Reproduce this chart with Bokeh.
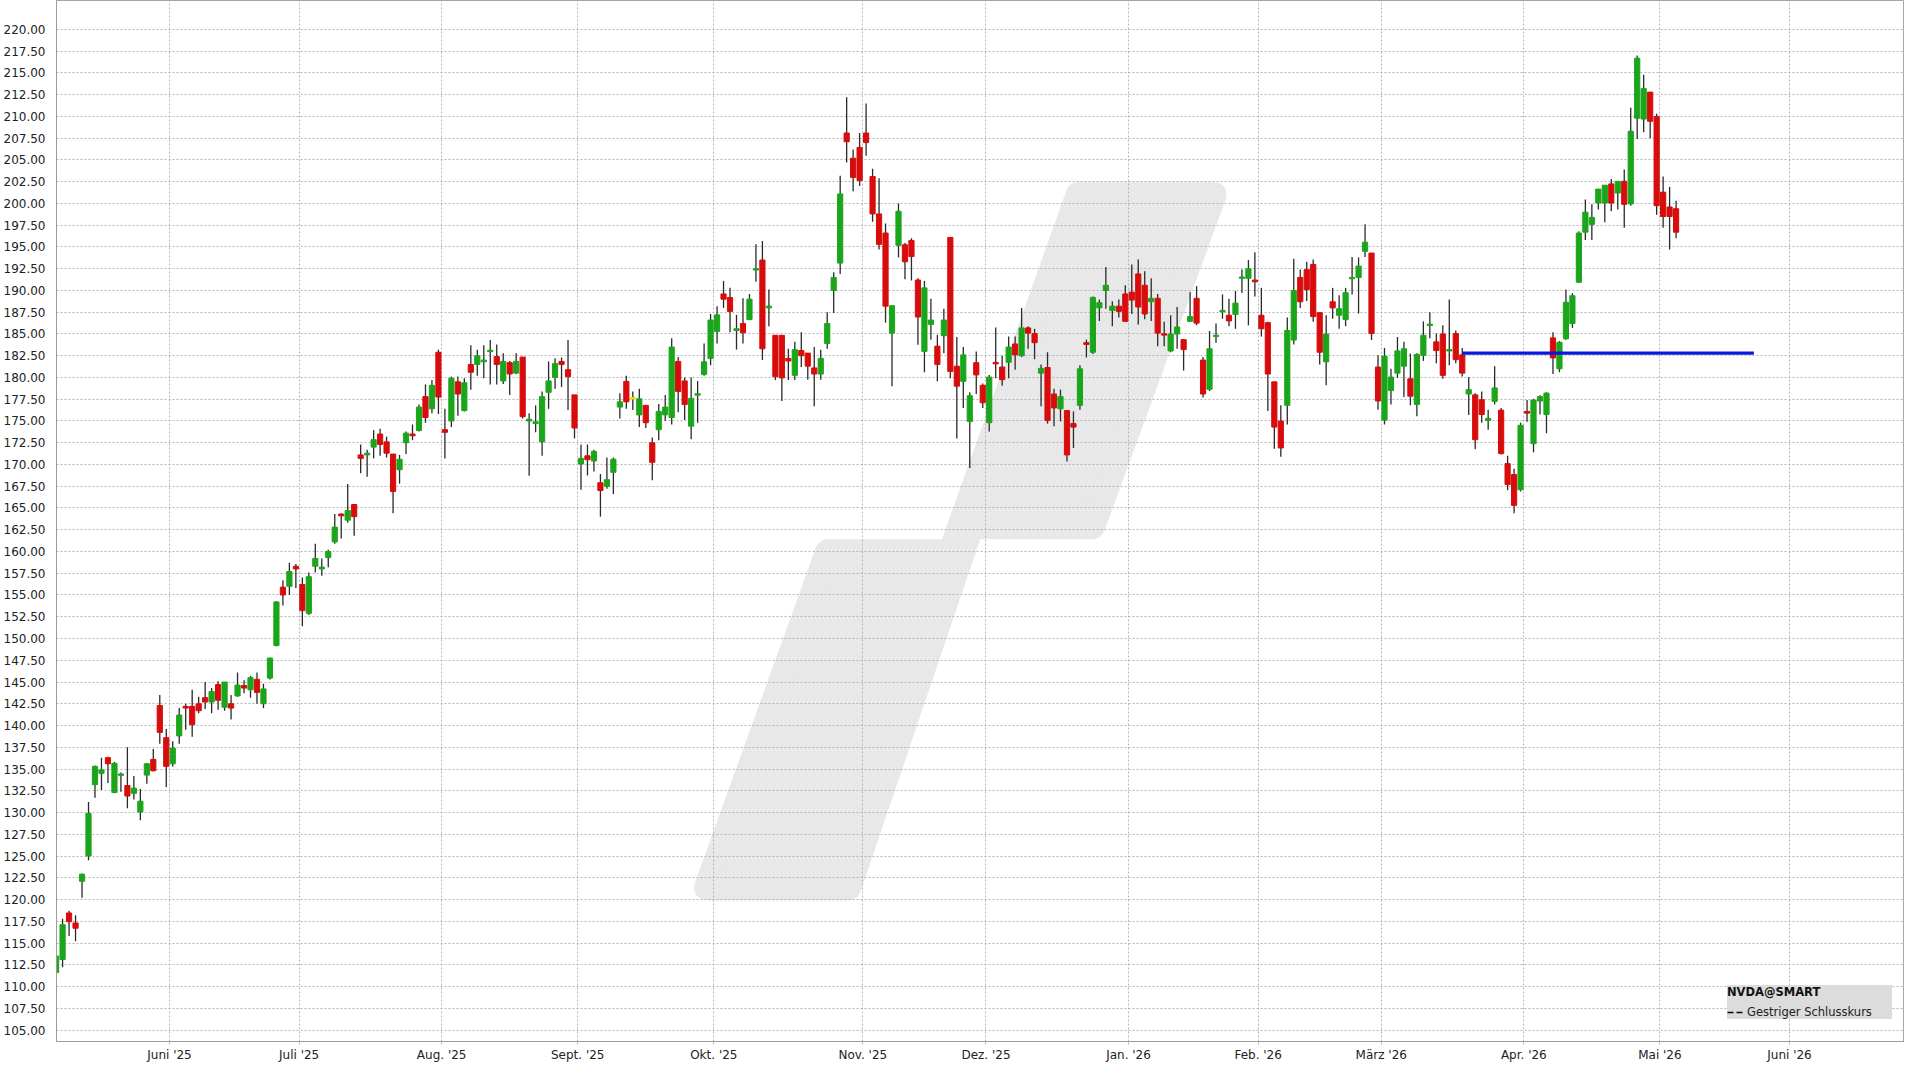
import numpy as np
import pandas as pd
from bokeh.plotting import figure
from bokeh.models import (ColumnDataSource, Range1d, FixedTicker, NumeralTickFormatter,
                          Legend, LegendItem)
from bokeh.embed import file_html
from bokeh.resources import INLINE

# ---------------- data ----------------
first_day = "2025-05-06"
axis_last_day = "2026-06-30"
market_holidays = ["2025-05-26", "2025-06-19", "2025-07-04", "2025-09-01", "2025-11-27",
                   "2025-12-25", "2026-01-01", "2026-01-19", "2026-02-16", "2026-04-03",
                   "2026-05-25"]

opens = [111.6, 113.1, 118.45, 117.3, 122.1, 125.0, 133.2, 134.5, 136.3, 132.3,
         134.3, 133.1, 132.2, 130.05, 134.3, 136.1, 142.3, 138.6, 135.6, 138.8,
         142.2, 142.2, 142.5, 143.2, 142.7, 144.7, 142.1, 142.5, 143.4, 144.6,
         144.1, 145.3, 142.5, 145.45, 149.2, 155.9, 156.0, 158.3, 156.2, 152.9,
         158.3, 158.0, 159.3, 161.1, 164.3, 163.6, 165.4, 171.1, 171.1, 172.0,
         173.5, 172.6, 171.2, 169.4, 172.5, 173.5, 173.9, 177.8, 176.4, 182.9,
         174.0, 175.0, 179.5, 176.2, 181.5, 181.5, 181.8, 183.0, 182.4, 179.6,
         181.7, 180.5, 182.35, 175.0, 174.7, 172.6, 178.3, 180.0, 181.85, 180.9,
         178.0, 170.05, 171.0, 170.4, 167.9, 167.5, 169.1, 176.6, 179.55, 177.6,
         175.7, 176.8, 172.5, 174.0, 175.7, 175.4, 181.85, 179.6, 174.4, 178.0,
         180.35, 182.2, 185.3, 189.6, 189.2, 185.4, 186.2, 186.65, 192.35, 193.5,
         188.0, 184.85, 184.85, 182.2, 180.25, 183.1, 182.8, 181.1, 180.4, 183.9,
         190.0, 193.15, 208.1, 205.2, 206.45, 208.1, 203.1, 198.8, 196.6, 185.1,
         195.2, 195.25, 195.75, 191.2, 183.0, 186.1, 183.6, 184.8, 196.1, 181.3,
         179.55, 174.95, 181.7, 179.1, 174.8, 181.7, 181.2, 181.75, 183.85, 182.5,
         185.7, 185.05, 180.5, 181.15, 178.1, 176.4, 176.2, 174.7, 176.8, 184.0,
         182.9, 188.0, 190.0, 187.7, 188.2, 189.6, 189.8, 191.9, 190.6, 188.7,
         189.1, 185.0, 183.05, 185.0, 184.35, 186.45, 189.1, 182.0, 178.65, 184.7,
         187.6, 187.15, 187.25, 191.4, 191.4, 191.2, 187.15, 186.3, 179.5, 175.0,
         176.8, 184.3, 191.5, 192.4, 193.0, 187.45, 181.8, 188.7, 187.15, 186.65,
         191.35, 191.5, 194.5, 194.3, 181.2, 175.1, 178.5, 180.5, 181.3, 179.85,
         176.9, 182.55, 186.0, 184.1, 185.0, 183.05, 185.05, 182.6, 178.1, 178.0,
         177.45, 175.05, 177.25, 176.25, 170.1, 168.85, 167.1, 176.1, 172.4, 177.3,
         175.75, 184.55, 181.0, 184.45, 186.2, 190.95, 196.7, 197.6, 200.05, 200.05,
         202.25, 201.2, 202.55, 199.95, 209.8, 209.7, 212.8, 210.0, 201.3, 199.6,
         199.4]
highs = [114.7, 117.8, 118.7, 118.2, 123.0, 131.2, 135.4, 136.3, 136.4, 135.8,
         134.6, 137.5, 134.2, 132.7, 135.7, 137.3, 143.5, 139.6, 138.2, 142.0,
         142.5, 144.1, 143.3, 145.0, 144.3, 145.1, 145.0, 143.5, 146.1, 145.2,
         145.7, 146.1, 144.8, 147.8, 154.3, 156.7, 158.7, 158.55, 157.0, 157.6,
         160.9, 159.2, 160.2, 164.3, 164.4, 167.75, 165.4, 172.3, 171.7, 173.95,
         174.1, 173.2, 171.2, 171.1, 173.8, 174.6, 176.9, 179.2, 179.7, 183.2,
         176.4, 180.1, 180.1, 179.9, 183.7, 183.2, 183.7, 184.3, 183.8, 182.8,
         181.9, 182.8, 182.35, 175.9, 176.8, 178.4, 181.85, 182.2, 182.3, 184.3,
         178.0, 172.3, 172.3, 171.7, 168.9, 170.8, 170.8, 178.2, 180.2, 178.4,
         178.7, 176.8, 173.1, 176.95, 178.0, 184.5, 182.35, 180.0, 180.0, 179.6,
         183.9, 187.3, 188.2, 191.1, 190.3, 187.2, 189.1, 189.6, 195.3, 195.7,
         190.1, 184.85, 184.85, 183.3, 184.1, 185.2, 182.8, 183.5, 183.2, 187.5,
         192.1, 203.2, 212.2, 206.2, 208.1, 211.5, 204.0, 202.9, 197.7, 188.25,
         200.0, 195.45, 196.0, 191.4, 191.1, 189.05, 184.9, 187.9, 196.1, 184.65,
         183.5, 178.3, 183.0, 179.3, 180.3, 185.75, 182.5, 184.7, 184.7, 188.0,
         185.9, 185.6, 181.5, 182.9, 178.7, 178.6, 176.2, 176.1, 181.4, 184.35,
         189.3, 188.95, 192.7, 188.75, 188.95, 190.6, 193.0, 193.55, 192.2, 191.4,
         189.6, 186.4, 187.15, 188.1, 184.35, 189.8, 190.5, 182.35, 185.35, 186.2,
         189.55, 189.05, 189.95, 192.4, 193.5, 194.4, 190.3, 186.4, 179.5, 176.8,
         186.9, 193.65, 192.4, 193.3, 193.55, 187.45, 187.15, 190.3, 189.45, 190.3,
         193.85, 193.8, 197.6, 194.3, 182.55, 183.4, 181.0, 184.65, 184.1, 182.75,
         182.8, 186.45, 187.5, 185.05, 186.0, 188.95, 185.4, 183.4, 180.05, 178.2,
         178.4, 176.3, 181.3, 176.5, 171.0, 169.5, 174.8, 177.4, 177.55, 177.95,
         178.3, 185.2, 184.2, 190.1, 189.7, 196.8, 200.45, 199.9, 201.65, 202.1,
         202.8, 202.55, 203.9, 211.0, 217.0, 214.8, 212.8, 210.3, 203.1, 201.9,
         200.3]
lows = [110.9, 112.2, 115.8, 115.2, 120.2, 124.5, 131.7, 132.6, 133.4, 132.2,
        132.4, 130.5, 131.5, 129.1, 133.3, 134.7, 137.9, 132.9, 135.3, 137.9,
        139.5, 138.7, 141.4, 141.9, 141.4, 141.8, 141.7, 140.7, 143.3, 143.7,
        143.2, 142.5, 142.0, 145.3, 149.1, 153.8, 155.0, 155.8, 151.4, 152.7,
        157.6, 157.2, 158.2, 160.9, 161.5, 163.3, 161.8, 169.0, 168.6, 170.7,
        171.0, 170.8, 164.4, 167.8, 171.2, 172.8, 173.8, 174.8, 175.9, 175.8,
        170.7, 174.3, 175.6, 176.1, 178.6, 180.2, 179.9, 179.2, 179.2, 179.25,
        178.0, 180.4, 175.3, 168.7, 173.7, 171.0, 176.4, 178.7, 178.9, 176.25,
        173.0, 167.1, 168.75, 169.2, 164.0, 167.2, 166.6, 175.3, 176.4, 176.25,
        174.3, 174.2, 168.2, 172.8, 175.0, 174.6, 176.0, 175.1, 172.9, 174.8,
        180.2, 181.4, 183.9, 188.0, 185.2, 183.2, 183.9, 186.6, 191.0, 182.0,
        185.9, 179.7, 177.3, 179.7, 179.7, 181.2, 179.75, 176.7, 179.75, 183.3,
        187.4, 191.9, 204.7, 201.4, 202.0, 205.5, 197.9, 194.7, 186.3, 179.0,
        193.8, 191.3, 191.15, 183.75, 180.6, 184.35, 179.55, 182.8, 179.9, 173.0,
        176.5, 169.6, 178.1, 176.5, 173.8, 179.9, 179.05, 179.9, 180.9, 182.35,
        183.3, 182.1, 176.7, 174.7, 174.4, 174.95, 170.35, 171.9, 176.3, 182.3,
        182.7, 186.5, 187.9, 185.9, 186.9, 186.4, 187.3, 186.1, 186.7, 186.5,
        183.6, 183.6, 182.9, 183.3, 180.8, 186.4, 186.0, 177.7, 178.45, 184.0,
        186.75, 185.9, 185.6, 189.7, 186.0, 189.3, 184.7, 176.15, 171.8, 170.9,
        174.6, 183.8, 188.0, 188.8, 186.4, 181.5, 179.1, 186.75, 185.6, 185.9,
        189.55, 187.35, 193.85, 184.3, 176.3, 174.6, 176.9, 179.95, 177.75, 176.8,
        175.55, 181.9, 184.5, 181.65, 179.85, 181.4, 181.65, 180.1, 175.7, 171.75,
        174.8, 174.0, 176.9, 171.15, 167.05, 164.4, 166.9, 174.9, 171.4, 175.75,
        173.6, 180.4, 180.6, 184.35, 185.7, 190.9, 195.8, 195.8, 199.3, 197.85,
        199.1, 199.3, 197.2, 199.75, 207.4, 208.2, 207.5, 198.7, 197.2, 194.7,
        196.0]
closes = [113.5, 117.1, 117.45, 116.7, 122.9, 129.9, 135.3, 134.9, 135.6, 135.65,
          134.4, 131.9, 132.8, 131.3, 135.6, 134.8, 139.2, 135.3, 137.4, 141.2,
          142.0, 140.1, 141.7, 142.7, 143.9, 142.9, 145.0, 142.0, 144.65, 144.3,
          145.5, 143.8, 144.2, 147.75, 154.2, 155.0, 157.7, 158.0, 153.2, 157.1,
          159.2, 158.2, 160.0, 162.8, 164.1, 164.7, 164.0, 170.7, 171.3, 172.85,
          172.3, 171.3, 166.9, 170.6, 173.6, 173.3, 176.6, 175.4, 179.1, 177.75,
          173.7, 179.9, 178.1, 179.4, 180.6, 182.5, 182.0, 183.1, 181.5, 181.85,
          180.4, 181.85, 175.5, 175.2, 174.9, 177.8, 179.6, 181.6, 181.5, 180.1,
          174.2, 170.7, 170.55, 171.5, 167.0, 168.25, 170.6, 177.2, 177.2, 177.6,
          177.55, 174.8, 170.25, 176.1, 176.6, 183.5, 178.4, 176.9, 177.6, 178.1,
          181.8, 186.6, 187.2, 189.0, 187.6, 185.6, 185.15, 189.0, 192.5, 183.3,
          188.2, 180.1, 179.95, 181.9, 183.2, 182.5, 181.3, 180.4, 182.2, 186.2,
          191.5, 201.1, 207.1, 203.0, 202.65, 207.0, 198.8, 195.3, 188.2, 188.25,
          199.1, 193.3, 193.9, 186.95, 190.3, 186.6, 181.5, 186.6, 180.7, 179.0,
          182.6, 177.9, 180.3, 177.1, 180.05, 181.6, 179.75, 183.5, 182.6, 185.7,
          185.1, 184.0, 181.05, 175.05, 176.5, 177.8, 171.1, 174.3, 181.0, 183.8,
          189.2, 188.6, 190.6, 188.2, 187.6, 186.45, 188.9, 188.1, 187.3, 189.1,
          185.1, 184.9, 185.0, 185.8, 183.2, 187.0, 186.25, 178.1, 183.3, 184.85,
          187.65, 186.5, 188.55, 191.55, 192.5, 191.0, 185.6, 180.4, 174.3, 171.9,
          185.4, 190.0, 188.7, 190.1, 187.0, 182.9, 185.0, 188.0, 187.9, 189.75,
          191.5, 192.8, 195.55, 185.05, 177.3, 182.45, 180.05, 183.05, 183.3, 177.85,
          182.65, 184.85, 186.1, 183.1, 180.25, 183.2, 182.05, 180.5, 178.6, 172.85,
          175.75, 175.3, 178.8, 171.25, 167.7, 165.3, 174.5, 175.9, 177.4, 177.8,
          178.2, 182.25, 184.05, 188.65, 189.4, 196.6, 199.0, 198.4, 201.65, 202.1,
          200.05, 202.55, 199.9, 208.3, 216.7, 213.2, 209.45, 199.75, 198.5, 198.5,
          196.7]

month_labels = ["Juni '25", "Juli '25", "Aug. '25", "Sept. '25", "Okt. '25", "Nov. '25",
                "Dez. '25", "Jan. '26", "Feb. '26", "März '26", "Apr. '26", "Mai '26",
                "Juni '26"]
month_starts = ["2025-06", "2025-07", "2025-08", "2025-09", "2025-10", "2025-11",
                "2025-12", "2026-01", "2026-02", "2026-03", "2026-04", "2026-05",
                "2026-06"]

prev_close_value = 182.8
prev_close_from = "2026-03-18"
prev_close_to = "2026-05-21"

y_ticks = list(np.arange(105.0, 220.01, 2.5))

# ---------------- build ----------------
days = pd.bdate_range(first_day, axis_last_day, freq="C", holidays=market_holidays)
day_index = {d.strftime("%Y-%m-%d"): i for i, d in enumerate(days)}
n = len(closes)

o = np.array(opens); h = np.array(highs); l = np.array(lows); c = np.array(closes)
xs = np.arange(n) + 0.5
colors = np.where(c > o, "#1ba51b", np.where(c < o, "#d80c0c", "#e8e000"))
top = np.maximum(o, c)
bot = np.minimum(o, c)
mid = (top + bot) / 2
small = (top - bot) < 0.15
top = np.where(small, mid + 0.08, top)
bot = np.where(small, mid - 0.08, bot)

src = ColumnDataSource(dict(x=xs, o=o, h=h, l=l, c=c, top=top, bot=bot, color=colors))

month_tick_pos = []
for ms in month_starts:
    first = next(i for i, d in enumerate(days) if d.strftime("%Y-%m") == ms)
    month_tick_pos.append(first)

FONT = "DejaVu Sans"
X0, X1 = 0.56, 285.75
Y0, Y1 = 103.68, 223.33

p = figure(width=1904, height=1064, output_backend="svg", toolbar_location=None,
           x_range=Range1d(X0, X1), y_range=Range1d(Y0, Y1),
           min_border_left=40, min_border_right=0, min_border_top=0, min_border_bottom=20)
p.background_fill_color = "white"
p.border_fill_color = "white"
p.outline_line_color = "#a6a6a6"

# ---- decorative watermark logo with rounded corners ----
wm_x = [156.9, 182.0, 161.8, 143.1, 124.2, 98.1, 118.2, 137.2]
wm_y = [202.5, 202.5, 161.4, 161.4, 119.9, 119.9, 161.4, 161.4]
sx = 1848.0 / (X1 - X0)
sy = 1041.0 / (Y1 - Y0)
P = np.column_stack([np.array(wm_x) * sx, np.array(wm_y) * sy])
area = 0.5 * np.sum(P[:, 0] * np.roll(P[:, 1], -1) - np.roll(P[:, 0], -1) * P[:, 1])
R = 13.0
m = len(P)
inset = []
for k in range(m):
    a0, a1 = P[k - 1], P[k]
    b0, b1 = P[k], P[(k + 1) % m]
    def off(p0, p1):
        d = (p1 - p0) / np.linalg.norm(p1 - p0)
        nrm = np.array([-d[1], d[0]]) if area > 0 else np.array([d[1], -d[0]])
        return p0 + R * nrm, d
    pa, da = off(a0, a1)
    pb, db = off(b0, b1)
    A = np.array([da, -db]).T
    t = np.linalg.solve(A, pb - pa)
    inset.append(pa + t[0] * da)
inset = np.array(inset)
p.patch(inset[:, 0] / sx, inset[:, 1] / sy, fill_color="#e8e8e8", line_color="#e8e8e8",
        line_width=2 * R, line_join="round", level="image")

# ---- candles ----
p.segment(x0="x", y0="l", x1="x", y1="h", source=src, line_color="#2a2a2a", line_width=1.3)
p.vbar(x="x", width=0.8, top="top", bottom="bot", source=src,
       fill_color="color", line_color="color", line_width=1)

i0 = day_index[prev_close_from] + 0.5
i1 = day_index[prev_close_to] + 0.5
p.line([i0, i1], [prev_close_value, prev_close_value], line_color="#0a16e0", line_width=3.2)

# ---- legend ----
dummy = p.line([np.nan], [np.nan], line_color="black", line_dash="6 3", line_width=1.5)
legend = Legend(items=[LegendItem(label="Gestriger Schlusskurs", renderers=[dummy])],
                title="NVDA@SMART", location=(1671, 22),
                title_text_font=FONT, title_text_font_size="11.5px", title_text_font_style="bold",
                title_text_color="#111111", title_standoff=6,
                label_text_font=FONT, label_text_font_size="11.5px", label_text_color="#222222",
                label_height=14, label_width=145, label_standoff=4,
                glyph_width=16, glyph_height=12,
                padding=9, spacing=0, margin=0,
                background_fill_color="#dcdcdc", background_fill_alpha=1.0,
                border_line_color=None)
p.add_layout(legend)

# ---- axes & grid ----
p.yaxis.ticker = FixedTicker(ticks=y_ticks)
p.yaxis.formatter = NumeralTickFormatter(format="0.00")
p.xaxis.ticker = FixedTicker(ticks=month_tick_pos)
p.xaxis.major_label_overrides = {int(t): lab for t, lab in zip(month_tick_pos, month_labels)}

for ax in (p.xaxis, p.yaxis):
    ax.axis_line_color = "#9c9c9c"
    ax.major_label_text_font = FONT
    ax.major_label_text_font_size = "12px"
    ax.major_label_text_color = "#222222"
    ax.minor_tick_line_color = None
p.yaxis.major_tick_line_color = None
p.yaxis.major_label_standoff = 5
p.xaxis.major_tick_line_color = "#b8b8b8"
p.xaxis.major_tick_out = 3
p.xaxis.major_tick_in = 0
p.xaxis.major_label_standoff = 3

p.xgrid.ticker = FixedTicker(ticks=month_tick_pos)
p.ygrid.ticker = FixedTicker(ticks=y_ticks)
for g in (p.xgrid, p.ygrid):
    g.grid_line_color = "#b4b4b4"
    g.grid_line_dash = "2 2"
    g.grid_line_width = 1

open("out.html", "w").write(file_html(p, INLINE))
